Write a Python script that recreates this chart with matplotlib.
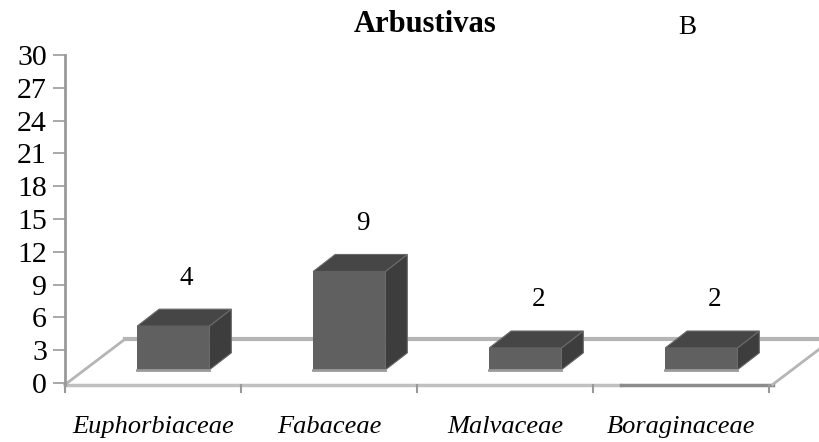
import matplotlib
matplotlib.use("Agg")
import matplotlib.pyplot as plt
from matplotlib.patches import Polygon
from matplotlib.lines import Line2D

categories = ["Euphorbiaceae", "Fabaceae", "Malvaceae", "Boraginaceae"]
values = [4, 9, 2, 2]
yticks = [0, 3, 6, 9, 12, 15, 18, 21, 24, 27, 30]
title = "Arbustivas"
panel = "B"

plt.rcParams['font.family'] = ['Liberation Serif', 'DejaVu Serif']

DPI = 100
fig = plt.figure(figsize=(8.2, 4.42), dpi=DPI)
ax = fig.add_axes([65/820, 59/442, 704/820, 328/442])
ax.set_xlim(0, len(categories))
ax.set_ylim(0, 30)
for s in ax.spines.values():
    s.set_visible(False)
ax.set_xticks([])
ax.set_yticks(yticks)
ax.set_yticklabels([str(t) for t in yticks], fontsize=21.5)
ax.tick_params(axis='y', length=9, width=1.2, color='#999999', pad=4)

# y axis line
ax.add_line(Line2D([0, 0], [-0.15, 30], color='#999999', lw=2, clip_on=False, zorder=2))

ft = fig.transFigure
inv = ft.inverted()
ybase = -0.15
fox, foy = 0.60 * DPI, 0.455 * DPI
# back floor line
p0 = ax.transData.transform((0, ybase))
bl = inv.transform([(p0[0] + fox, p0[1] + foy), (900, p0[1] + foy)])
ax.add_line(Line2D(bl[:, 0], bl[:, 1], color='#b5b5b5', lw=3, transform=ft,
                   clip_on=False, zorder=1))
# front floor line
ax.add_line(Line2D([0, 3.16], [ybase, ybase], color='#c0c0c0', lw=2.5, clip_on=False, zorder=1))
ax.add_line(Line2D([3.16, 4.02], [ybase, ybase], color='#8c8c8c', lw=2.5, clip_on=False, zorder=1))
# diagonals
for xx in [0, 4.02]:
    p = ax.transData.transform((xx, ybase))
    pts = inv.transform([p, (p[0] + fox, p[1] + foy)])
    ax.add_line(Line2D(pts[:, 0], pts[:, 1], color='#b5b5b5', lw=2,
                       transform=ft, clip_on=False, zorder=1))
# category ticks
for i in range(len(categories) + 1):
    ax.add_line(Line2D([i, i], [ybase, ybase - 0.7], color='#999999', lw=1.5, clip_on=False))

# bars
dx, dy = 0.22 * DPI, 0.17 * DPI
base = 1.2
for i, v in enumerate(values):
    x0, x1 = i + 0.41, i + 0.82
    y0, y1 = base, base + v
    tr = ax.transData
    fx0, fy0 = tr.transform((x0, y0))
    fx1, fy1 = tr.transform((x1, y1))
    side = [(fx1, fy0), (fx1 + dx, fy0 + dy), (fx1 + dx, fy1 + dy), (fx1, fy1)]
    top = [(fx0, fy1), (fx0 + dx, fy1 + dy), (fx1 + dx, fy1 + dy), (fx1, fy1)]
    ax.add_patch(Polygon(inv.transform(side), closed=True, facecolor='#3d3d3d',
                         edgecolor='#6a6a6a', lw=0.8, transform=ft, zorder=3, clip_on=False))
    ax.add_patch(Polygon(inv.transform(top), closed=True, facecolor='#464646',
                         edgecolor='#6a6a6a', lw=0.8, transform=ft, zorder=3, clip_on=False))
    ax.add_patch(Polygon([(x0, y0), (x1, y0), (x1, y1), (x0, y1)], closed=True,
                         facecolor='#606060', edgecolor='none', zorder=4, clip_on=False))
    ax.add_line(Line2D([x0, x1], [y0, y0], color='#9a9a9a', lw=2, zorder=5, clip_on=False))
    ax.text(i + 0.69, v + 5.6, str(v), ha='center', va='center', fontsize=19.5)

# category labels
for i, c in enumerate(categories):
    ax.text(i + 0.5, -4.0, c, ha='center', va='center', fontsize=19, style='italic')

fig.text(425/820, 1 - 25/442, title, ha='center', va='center', fontsize=22, fontweight='bold')
fig.text(687/820, 1 - 28/442, panel, ha='center', va='center', fontsize=19.5)

fig.savefig("out.png", dpi=DPI)
